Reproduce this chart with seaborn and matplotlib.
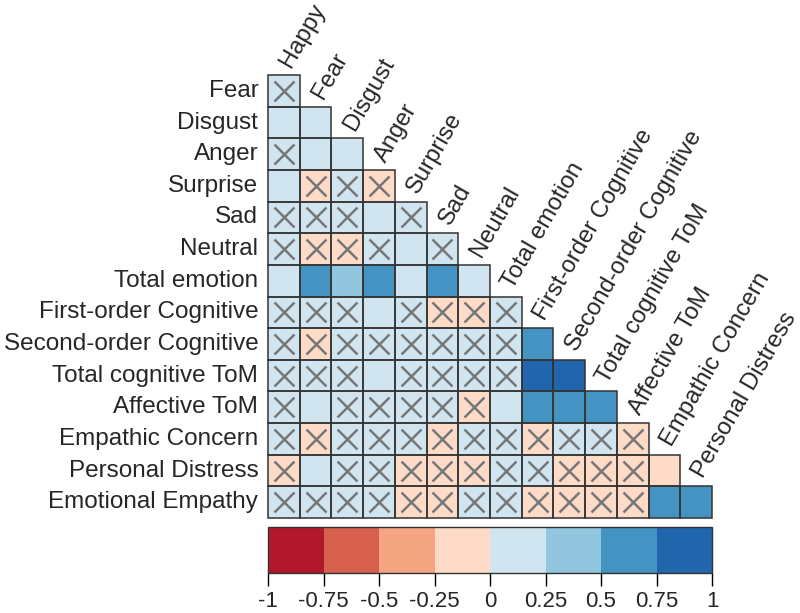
import numpy as np
import pandas as pd
import matplotlib
matplotlib.use("Agg")
import matplotlib.pyplot as plt
from matplotlib.colors import ListedColormap
from matplotlib.patches import Rectangle
import seaborn as sns

sns.set_style("white")
plt.rcParams["font.family"] = ["Liberation Sans", "DejaVu Sans"]

# variables (rows start at Fear, columns end at Personal Distress)
variables = ["Happy", "Fear", "Disgust", "Anger", "Surprise", "Sad", "Neutral",
             "Total emotion", "First-order Cognitive", "Second-order Cognitive",
             "Total cognitive ToM", "Affective ToM", "Empathic Concern",
             "Personal Distress", "Emotional Empathy"]
row_names = variables[1:]
col_names = variables[:-1]

# lower triangle of correlations, one list per row (estimated from colours)
r_lower = [
    [0.09],
    [0.21, 0.23],
    [0.12, 0.22, 0.24],
    [0.20, -0.08, 0.07, -0.11],
    [0.10, 0.06, 0.09, 0.19, 0.13],
    [0.05, -0.06, -0.09, 0.11, 0.18, 0.12],
    [0.21, 0.62, 0.45, 0.64, 0.24, 0.58, 0.20],
    [0.08, 0.05, 0.04, 0.19, 0.09, -0.05, -0.07, 0.08],
    [0.06, -0.04, 0.07, 0.05, 0.03, 0.06, 0.04, 0.05, 0.62],
    [0.08, 0.03, 0.06, 0.18, 0.07, 0.02, 0.01, 0.09, 0.88, 0.90],
    [0.07, 0.20, 0.05, 0.06, 0.04, 0.08, -0.06, 0.18, 0.61, 0.63, 0.70],
    [0.05, -0.07, 0.04, 0.03, 0.02, -0.05, 0.06, 0.07, -0.04, 0.05, 0.02, -0.09],
    [-0.10, 0.21, 0.04, 0.05, -0.06, -0.08, -0.05, 0.03, 0.06, -0.04, -0.03, -0.08, -0.22],
    [0.04, 0.02, 0.06, 0.03, -0.04, -0.07, 0.02, 0.05, -0.03, -0.05, -0.06, -0.07, 0.68, 0.72],
]

# 1 = not significant (crossed out)
nonsig = [
    [1],
    [0, 0],
    [1, 0, 0],
    [0, 1, 1, 1],
    [1, 1, 1, 0, 1],
    [1, 1, 1, 1, 0, 1],
    [0, 0, 0, 0, 0, 0, 0],
    [1, 1, 1, 0, 1, 1, 1, 1],
    [1, 1, 1, 1, 1, 1, 1, 1, 0],
    [1, 1, 1, 0, 1, 1, 1, 1, 0, 0],
    [1, 0, 1, 1, 1, 1, 1, 0, 0, 0, 0],
    [1, 1, 1, 1, 1, 1, 1, 1, 1, 1, 1, 1],
    [1, 0, 1, 1, 1, 1, 1, 1, 1, 1, 1, 1, 0],
    [1, 1, 1, 1, 1, 1, 1, 1, 1, 1, 1, 1, 0, 0],
]

palette = ["#B2182B", "#D6604D", "#F4A582", "#FDDBC7",
           "#D1E5F0", "#92C5DE", "#4393C3", "#2166AC"]
cbar_ticks = [-1, -0.75, -0.5, -0.25, 0, 0.25, 0.5, 0.75, 1]
cbar_labels = ["-1", "-0.75", "-0.5", "-0.25", "0", "0.25", "0.5", "0.75", "1"]

n = len(row_names)
mat = np.full((n, n), np.nan)
for i, row in enumerate(r_lower):
    mat[i, :len(row)] = row
df = pd.DataFrame(mat, index=row_names, columns=col_names)

fig = plt.figure(figsize=(8, 6.13), dpi=100)
ax = fig.add_axes([0.335, 0.155, 0.555, 0.7225])
cax = fig.add_axes([0.335, 0.065, 0.555, 0.075])

sns.heatmap(df, mask=np.isnan(mat), cmap=ListedColormap(palette), vmin=-1, vmax=1,
            linewidths=0, xticklabels=False, yticklabels=True,
            ax=ax, cbar_ax=cax,
            cbar_kws={"orientation": "horizontal", "ticks": cbar_ticks})

# cell borders and crosses, only for the lower triangle
for i, row in enumerate(nonsig):
    for j, flag in enumerate(row):
        ax.add_patch(Rectangle((j, i), 1, 1, fill=False, ec="#333333", lw=1.1,
                               clip_on=False, zorder=3))
        if flag:
            ax.plot(j + 0.5, i + 0.5, marker="x", color="#777777",
                    markersize=14, mew=1.8, zorder=4)

ax.tick_params(axis="y", length=0, pad=7, labelsize=17.5)
plt.setp(ax.get_yticklabels(), rotation=0)

# column labels on the diagonal
for j, name in enumerate(col_names):
    ax.text(j + 0.72, j - 0.22, name, rotation=60, ha="left", va="baseline",
            rotation_mode="anchor", fontsize=17.2, clip_on=False)

cb = ax.collections[0].colorbar
cb.outline.set_edgecolor("#333333")
cb.outline.set_linewidth(1)
cb.ax.set_xticklabels(cbar_labels)
cb.ax.tick_params(axis="x", direction="out", length=9, width=1, labelsize=16,
                  color="black", bottom=True)

fig.savefig("out.png", dpi=100)
